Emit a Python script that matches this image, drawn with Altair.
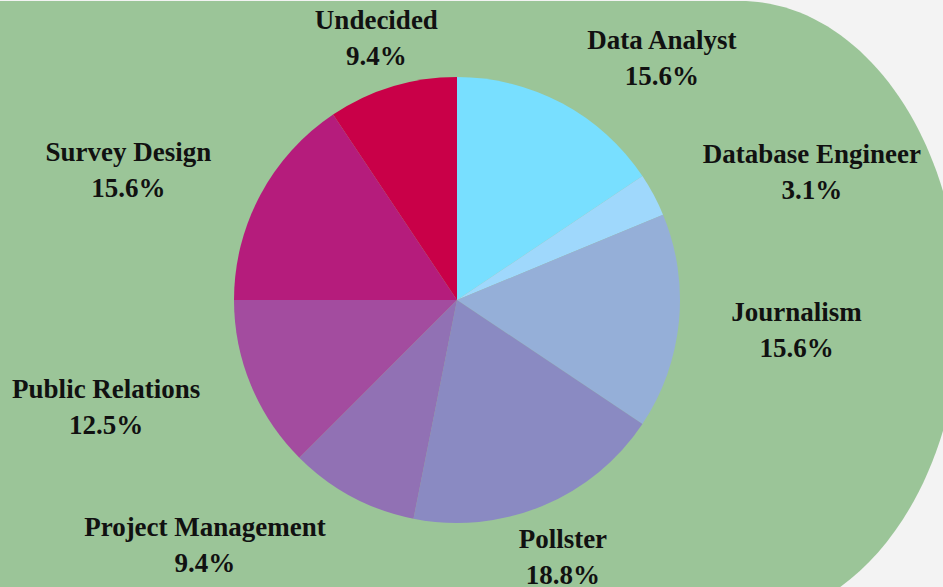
import math
import altair as alt
import pandas as pd

# ---- data ----
categories = ["Data Analyst", "Database Engineer", "Journalism", "Pollster",
              "Project Management", "Public Relations", "Survey Design", "Undecided"]
counts = [5, 1, 5, 6, 3, 4, 5, 3]
colors = ["#78dfff", "#9fd8fc", "#95afd8", "#8a8ac2",
          "#9171b4", "#a34c9f", "#b51c7c", "#c90048"]

# ---- layout (label placement around the pie) ----
label_nudge_deg = [12.3, 8.4, -0.4, 0.2, 17.6, 5.4, -6.7, -0.3]
label_radius = [316, 377, 341, 279, 352, 367, 353, 273]
CX, CY, R = 457, 300, 223

total = sum(counts)
rows = []
cum = 0
for i, (c, n) in enumerate(zip(categories, counts)):
    mid = (cum + n / 2) / total * 2 * math.pi
    cum += n
    pct = n / total * 100
    rows.append({
        "idx": i,
        "category": c,
        "count": n,
        "label": f"{c}\n{pct:.1f}%",
        "ltheta": mid + math.radians(label_nudge_deg[i]),
        "lradius": label_radius[i],
    })
df = pd.DataFrame(rows)

# green backdrop: a band with a half-elliptical right end (unit = 100 px)
backdrop_path = "M -12 -3.1 L 0 -3.1 A 2.2 3.1 0 0 1 0 3.1 L -12 3.1 Z"
bg = alt.Chart(alt.Data(values=[{"a": 1}])).mark_point(
    shape=backdrop_path, filled=True, color="#9bc598", opacity=1, strokeWidth=0
).encode(
    x=alt.value(740), y=alt.value(311), size=alt.value(40000)
)

pie = alt.Chart(df).mark_arc(outerRadius=R).encode(
    theta=alt.Theta("count:Q", stack=True),
    color=alt.Color("category:N", scale=alt.Scale(domain=categories, range=colors), legend=None),
    order=alt.Order("idx:Q"),
    x=alt.value(CX),
    y=alt.value(CY),
)

labels = alt.Chart(df).mark_text(
    font="Liberation Serif", fontWeight="bold", fontSize=27, lineHeight=36,
    lineBreak="\n", align="center", baseline="middle", color="#111111", dy=-18
).encode(
    theta=alt.Theta("ltheta:Q", scale=None),
    radius=alt.Radius("lradius:Q", scale=None),
    text="label:N",
    x=alt.value(CX),
    y=alt.value(CY),
)

chart = alt.layer(bg, pie, labels).properties(
    width=943, height=587, background="#f3f3f3", padding=0,
    autosize=alt.AutoSizeParams(type="none")
).configure_view(stroke=None)

chart.save("out.html", embed_options={"renderer": "svg", "actions": False})
